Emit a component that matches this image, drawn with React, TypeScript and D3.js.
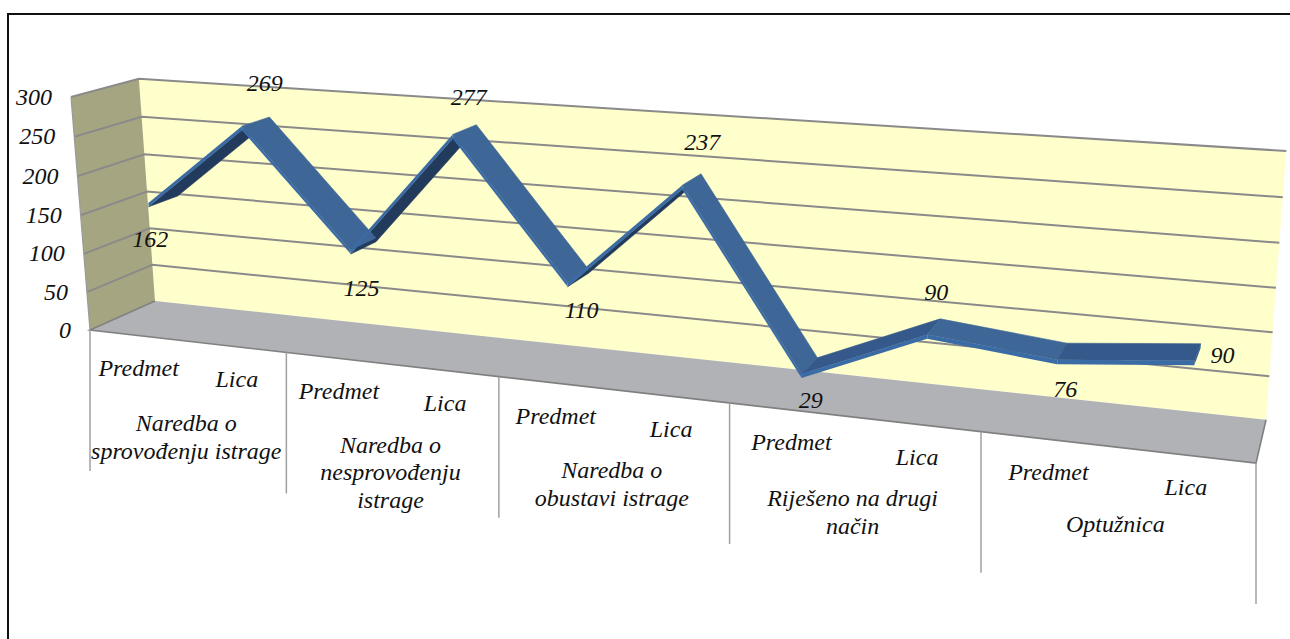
import React from "react";
import * as d3 from "d3";

const categories = ["Predmet", "Lica"];
const groups = [
  ["Naredba o", "sprovođenju istrage"],
  ["Naredba o", "nesprovođenju", "istrage"],
  ["Naredba o", "obustavi istrage"],
  ["Riješeno na drugi", "način"],
  ["Optužnica"],
];
const values = [162, 269, 125, 277, 110, 237, 29, 90, 76, 90];
const yTicks = [0, 50, 100, 150, 200, 250, 300];

const W = 1290;
const H = 639;
const FONT = "'Liberation Serif', 'Times New Roman', serif";

// perspective box: corners, c* are the homogeneous weights
const P0 = [90, 330];
const PX = [1256, 463];
const PY = [71, 97];
const PD = [155, 301];
const C = [-0.19, -0.03, 0.0512];

const colX = [0, 1].map((k) => (1 + C[0]) * PX[k] - P0[k]);
const colY = [0, 1].map((k) => (1 + C[1]) * PY[k] - P0[k]);
const colD = [0, 1].map((k) => (1 + C[2]) * PD[k] - P0[k]);

const n = values.length;
const uScale = d3.scaleLinear().domain([0, n]).range([0, 1]);
const vScale = d3.scaleLinear().domain([0, 300]).range([0, 1]);

function project(i: number, val: number, d: number): [number, number] {
  const u = uScale(i);
  const v = vScale(val);
  const den = 1 + C[0] * u + C[1] * v + C[2] * d;
  return [
    (P0[0] + u * colX[0] + v * colY[0] + d * colD[0]) / den,
    (P0[1] + u * colX[1] + v * colY[1] + d * colD[1]) / den,
  ];
}

const poly = (pts: [number, number][]) => d3.line()(pts) + "Z";

const D_FRONT = 0.3;
const D_BACK = 0.75;
const THICK = 5;

// [dx, dy] of each value label from its point on the ribbon's front edge
const labelNudge = [
  [2, 39],
  [23, -41],
  [11, 40],
  [16, -35],
  [14, 30],
  [20, -41],
  [9, 29],
  [9, -40],
  [8, 32],
  [28, -3],
];
const groupDy = [85, 83, 83, 84, 80];

export default function App() {
  const segs = d3.range(n - 1).map((i) => {
    const a = i + 0.5;
    const b = i + 1.5;
    const va = values[i];
    const vb = values[i + 1];
    const fa = project(a, va, D_FRONT);
    const fb = project(b, vb, D_FRONT);
    const ba = project(a, va, D_BACK);
    const bb = project(b, vb, D_BACK);
    const under = project(a, va - THICK, D_FRONT);
    const underB = project(b, vb - THICK, D_FRONT);
    // which side of the ribbon faces the viewer
    const cross =
      (fb[0] - fa[0]) * (ba[1] - fa[1]) - (fb[1] - fa[1]) * (ba[0] - fa[0]);
    const showsUnder = cross > 0;
    const face = showsUnder
      ? [under, underB, project(b, vb - THICK, D_BACK), project(a, va - THICK, D_BACK)]
      : [fa, fb, bb, ba];
    const fill = showsUnder ? "#223a5c" : vb > va ? "#34598a" : "#3e6798";
    return { i, fa, fb, under, underB, showsUnder, face, fill };
  });
  const ordered = [...segs.filter((s) => s.showsUnder), ...segs.filter((s) => !s.showsUnder)];

  const endCap = [
    project(n - 0.5, values[n - 1], D_FRONT),
    project(n - 0.5, values[n - 1], D_BACK),
    project(n - 0.5, values[n - 1] - THICK, D_BACK),
    project(n - 0.5, values[n - 1] - THICK, D_FRONT),
  ] as [number, number][];

  return (
    <svg
      width={W}
      height={H}
      style={{ position: "absolute", left: 0, top: 0, background: "#fff" }}
      fontFamily={FONT}
      fontStyle="italic"
      fontSize={24}
      fill="#111"
    >
      <path d={`M8,${H}V14H${W}`} fill="none" stroke="#111" strokeWidth={2} />

      {/* walls and floor */}
      <path
        d={poly([project(0, 0, 1), project(n, 0, 1), project(n, 300, 1), project(0, 300, 1)])}
        fill="#ffffcc"
      />
      <path
        d={poly([project(0, 0, 0), project(0, 0, 1), project(0, 300, 1), project(0, 300, 0)])}
        fill="#a5a581"
      />
      <path
        d={poly([project(0, 0, 0), project(n, 0, 0), project(n, 0, 1), project(0, 0, 1)])}
        fill="#b0b2b6"
      />
      <path
        d={d3.line()([project(0, 0, 1), project(0, 0, 0), project(n, 0, 0), project(n, 0, 1)]) ?? ""}
        stroke="#808080"
        strokeWidth={1.6}
        fill="none"
      />

      {/* gridlines */}
      {yTicks.filter((t) => t > 0).map((t) => (
        <path
          key={t}
          d={d3.line()([project(0, t, 0), project(0, t, 1), project(n, t, 1)]) ?? ""}
          fill="none"
          stroke="#8a8a8a"
          strokeWidth={2}
        />
      ))}
      <path d={d3.line()([project(0, 0, 0), project(0, 300, 0)]) ?? ""} stroke="#9a9a9a" strokeWidth={1.2} fill="none" />

      {/* category dividers */}
      {d3.range(0, n + 1, 2).map((i) => {
        const [x, y] = project(i, 0, 0);
        return <line key={i} x1={x} x2={x} y1={y} y2={y + 141} stroke="#a0a0a0" strokeWidth={1.5} />;
      })}

      {/* ribbon */}
      {ordered.map((s) => (
        <path key={s.i} d={poly(s.face as [number, number][])} fill={s.fill} stroke={s.fill} strokeWidth={0.6} />
      ))}
      {segs.map((s) => (
        <path key={s.i} d={poly([s.fa, s.fb, s.underB, s.under])} fill="#3b6ba5" />
      ))}
      <path d={poly(endCap)} fill="#34598a" />

      {/* y axis */}
      {yTicks.map((t) => {
        const [x, y] = project(0, t, 0);
        return (
          <text key={t} x={x - 19} y={y + 2} textAnchor="end" dominantBaseline="middle">
            {t}
          </text>
        );
      })}

      {/* value labels */}
      {values.map((val, i) => {
        const [x, y] = project(i + 0.5, val, D_FRONT);
        return (
          <text key={i} x={x + labelNudge[i][0]} y={y + labelNudge[i][1]} textAnchor="middle" dominantBaseline="middle">
            {val}
          </text>
        );
      })}

      {/* category labels */}
      {values.map((_, i) => {
        const [x, y] = project(i + 0.5, 0, 0);
        return (
          <text key={i} x={x + 1} y={y + 35} textAnchor="middle" dominantBaseline="middle">
            {categories[i % 2]}
          </text>
        );
      })}
      {groups.map((lines, g) => {
        const [x, y] = project(g * 2 + 1, 0, 0);
        return lines.map((line, l) => (
          <text key={l} x={x} y={y + groupDy[g] + l * 27.5} textAnchor="middle" dominantBaseline="middle">
            {line}
          </text>
        ));
      })}
    </svg>
  );
}
